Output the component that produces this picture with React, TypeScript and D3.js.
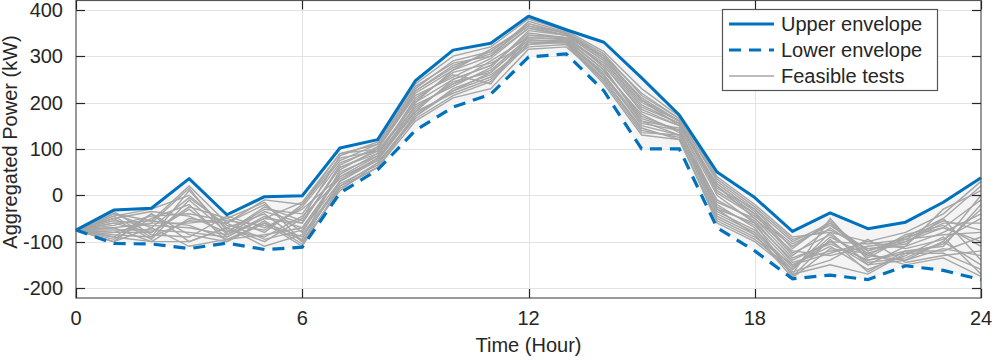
import { useEffect, useRef } from "react";
import { select, scaleLinear, line, area, range } from "d3";

const hours = range(0, 25);

const upperEnvelope = [
    -75, -32, -28, 36, -42, -3, -1, 102, 120, 247, 313, 328, 386, 357, 330, 253,
    173, 50, -5, -78, -38, -72, -58, -15, 38,
];

const lowerEnvelope = [
    -75, -104, -105, -115, -103, -117, -112, 5, 55, 140, 190, 218, 298, 305, 225,
    100, 100, -70, -120, -180, -172, -182, -152, -162, -182,
];

// feasible test profiles (kW per hour)
const test01 = [-75, -40, -55, 20, -60, -10, -20, 90, 110, 230, 290, 310, 370, 350, 300, 220, 165, 30, -30, -100, -60, -120, -90, -50, 20];
const test02 = [-75, -60, -80, -30, -90, -50, -60, 60, 90, 200, 250, 280, 350, 340, 280, 180, 150, 0, -60, -140, -100, -150, -110, -80, -40];
const test03 = [-75, -90, -40, -100, -70, -40, -100, 30, 80, 180, 220, 250, 330, 330, 260, 150, 130, -40, -80, -160, -90, -130, -140, -100, -150];
const test04 = [-75, -50, -95, -10, -80, -30, -40, 70, 100, 220, 270, 300, 360, 345, 290, 200, 160, 20, -50, -120, -130, -110, -100, -70, -10];
const test05 = [-75, -80, -60, -60, -50, -80, -20, 80, 95, 190, 240, 290, 340, 335, 270, 170, 140, -20, -70, -170, -50, -140, -120, -120, -90];
const test06 = [-75, -100, -70, -110, -95, -60, -90, 20, 70, 170, 230, 260, 320, 325, 240, 130, 120, -50, -90, -150, -110, -160, -130, -90, -170];
const test07 = [-75, -45, -30, 0, -70, -100, -50, 85, 115, 240, 300, 320, 380, 355, 310, 230, 170, 40, -20, -90, -80, -100, -80, -40, 30];
const test08 = [-75, -70, -100, -50, -60, -20, -80, 50, 85, 210, 260, 240, 345, 340, 285, 190, 155, 10, -40, -130, -70, -125, -100, -60, -60];
const test09 = [-75, -35, -85, -90, -45, -70, -30, 40, 75, 195, 235, 275, 355, 345, 275, 160, 145, -30, -60, -175, -95, -165, -120, -110, -20];
const test10 = [-75, -95, -50, -20, -100, -55, -105, 15, 60, 160, 210, 230, 315, 320, 250, 140, 125, -60, -100, -165, -140, -95, -145, -130, -120];
const test11 = [-75, -55, -65, -70, -85, -35, -60, 65, 105, 225, 280, 305, 365, 350, 295, 210, 160, 5, -45, -110, -60, -135, -90, -70, -100];
const test12 = [-75, -85, -90, 10, -75, -90, -45, 35, 80, 185, 245, 265, 335, 330, 265, 175, 135, -10, -55, -145, -120, -115, -105, -50, -140];
const test13 = [-75, -65, -45, -40, -55, -65, -95, 55, 100, 215, 255, 295, 360, 345, 300, 205, 150, 25, -35, -125, -85, -145, -135, -100, 0];
const test14 = [-75, -75, -75, -80, -90, -45, -70, 45, 90, 205, 265, 285, 325, 335, 255, 155, 140, -35, -75, -155, -100, -105, -95, -85, -80];
const test15 = [-75, -40, -70, -5, -65, -75, -25, 75, 110, 235, 285, 300, 375, 352, 305, 215, 165, 35, -25, -95, -75, -115, -110, -30, 10];
const test16 = [-75, -90, -100, -100, -70, -110, -85, 25, 65, 175, 225, 255, 330, 328, 245, 135, 130, -45, -85, -170, -150, -170, -125, -125, -160];
const test17 = [-75, -50, -35, -45, -80, -25, -55, 60, 95, 200, 270, 315, 365, 345, 290, 195, 155, 15, -30, -115, -55, -130, -85, -65, -110];
const test18 = [-75, -60, -55, -65, -95, -85, -70, 40, 85, 190, 240, 270, 340, 338, 270, 165, 140, -25, -65, -150, -125, -100, -115, -95, -50];
const test19 = [-75, -80, -80, -25, -50, -15, -100, 10, 70, 165, 215, 245, 325, 330, 250, 145, 120, -55, -95, -160, -80, -150, -140, -115, -130];
const test20 = [-75, -70, -60, 15, -85, -50, -15, 90, 100, 225, 275, 310, 370, 348, 295, 205, 160, 20, -40, -105, -65, -120, -95, -55, -75];
const test21 = [-75, -45, -90, -55, -60, -95, -75, 30, 75, 180, 250, 280, 345, 340, 280, 185, 150, -15, -50, -135, -105, -140, -125, -105, -30];
const test22 = [-75, -100, -40, -85, -100, -60, -110, 20, 60, 170, 225, 265, 335, 333, 260, 160, 130, -30, -85, -178, -115, -125, -150, -135, -175];

const feasibleTests = [
    test01, test02, test03, test04, test05, test06, test07, test08, test09, test10, test11,
    test12, test13, test14, test15, test16, test17, test18, test19, test20, test21, test22,
];

const xTicks = [0, 6, 12, 18, 24];
const yTicks = [-200, -100, 0, 100, 200, 300, 400];
const legendLabels = ["Upper envelope", "Lower envelope", "Feasible tests"];

const Width = 996;
const Height = 360;

function App() {
    const svgRef = useRef(null);

    useEffect(() => {
        const Margin = { top: 0.5, right: 15, bottom: 62, left: 76 };
        const innerRight = Width - Margin.right;
        const innerBottom = Height - Margin.bottom;
        const font = "'Liberation Sans', Arial, Helvetica, sans-serif";
        const axisColor = "#262626";
        const blue = "#0072BD";

        const svg = select(svgRef.current);
        svg.selectAll("*").remove();

        const xScale = scaleLinear().domain([0, 24]).range([Margin.left, innerRight]);
        const yScale = scaleLinear().domain([-221.5, 420]).range([innerBottom, Margin.top]);

        // grid
        const grid = svg.append("g").attr("stroke", "#e3e3e3").attr("stroke-width", 1);
        grid.selectAll(".gx")
            .data(xTicks.slice(1, -1))
            .join("line")
            .attr("x1", (d) => Math.round(xScale(d)) + 0.5)
            .attr("x2", (d) => Math.round(xScale(d)) + 0.5)
            .attr("y1", Margin.top)
            .attr("y2", innerBottom);
        grid.selectAll(".gy")
            .data(yTicks)
            .join("line")
            .attr("x1", Margin.left)
            .attr("x2", innerRight)
            .attr("y1", (d) => Math.round(yScale(d)) + 0.5)
            .attr("y2", (d) => Math.round(yScale(d)) + 0.5);

        // shaded band between envelopes
        const band = area()
            .x((d) => xScale(d))
            .y0((d) => yScale(lowerEnvelope[d]))
            .y1((d) => yScale(upperEnvelope[d]));
        svg.append("path").attr("d", band(hours)).attr("fill", "#f4f4f4");

        const myLine = line()
            .x((d, i) => xScale(hours[i]))
            .y((d) => yScale(d));

        // feasible tests
        svg.append("g")
            .selectAll("path")
            .data(feasibleTests)
            .join("path")
            .attr("d", (d) => myLine(d))
            .attr("fill", "none")
            .attr("stroke", "#a6a6a6")
            .attr("stroke-width", 1.4);

        // envelopes
        svg.append("path")
            .attr("d", myLine(lowerEnvelope))
            .attr("fill", "none")
            .attr("stroke", blue)
            .attr("stroke-width", 3.2)
            .attr("stroke-dasharray", "12 8");

        svg.append("path")
            .attr("d", myLine(upperEnvelope))
            .attr("fill", "none")
            .attr("stroke", blue)
            .attr("stroke-width", 3)
            .attr("stroke-linejoin", "round");

        // axes box + ticks
        const axes = svg.append("g").attr("stroke", axisColor).attr("stroke-width", 1.2).attr("fill", "none");
        axes.append("rect")
            .attr("x", Margin.left)
            .attr("y", Margin.top)
            .attr("width", innerRight - Margin.left)
            .attr("height", innerBottom - Margin.top)
            .attr("stroke", "#555");
        const tickLen = 9;
        xTicks.forEach((t) => {
            const x = Math.round(xScale(t)) + 0.5;
            axes.append("line").attr("x1", x).attr("x2", x).attr("y1", innerBottom).attr("y2", innerBottom - tickLen);
            axes.append("line").attr("x1", x).attr("x2", x).attr("y1", Margin.top).attr("y2", Margin.top + tickLen);
        });
        yTicks.forEach((t) => {
            const y = Math.round(yScale(t)) + 0.5;
            axes.append("line").attr("x1", Margin.left).attr("x2", Margin.left + tickLen).attr("y1", y).attr("y2", y);
            axes.append("line").attr("x1", innerRight).attr("x2", innerRight - tickLen).attr("y1", y).attr("y2", y);
        });

        // tick labels
        svg.append("g")
            .selectAll("text")
            .data(xTicks)
            .join("text")
            .attr("x", (d) => xScale(d))
            .attr("y", innerBottom + 27)
            .attr("text-anchor", "middle")
            .text((d) => d);

        svg.append("g")
            .selectAll("text")
            .data(yTicks)
            .join("text")
            .attr("x", Margin.left - 13)
            .attr("y", (d) => yScale(d) + 7)
            .attr("text-anchor", "end")
            .text((d) => d);

        // axis labels
        svg.append("text")
            .attr("x", xScale(12))
            .attr("y", 352)
            .attr("text-anchor", "middle")
            .text("Time (Hour)");

        svg.append("text")
            .attr("transform", "rotate(-90)")
            .attr("x", -142)
            .attr("y", 17)
            .attr("text-anchor", "middle")
            .text("Aggregated Power (kW)");

        // legend
        const legend = svg.append("g");
        legend.append("rect")
            .attr("x", 722.5)
            .attr("y", 9.5)
            .attr("width", 215)
            .attr("height", 81)
            .attr("fill", "white")
            .attr("stroke", "#555")
            .attr("stroke-width", 1.2);
        const legendStyles = [
            { stroke: blue, width: 3, dash: null },
            { stroke: blue, width: 3.2, dash: "12 8" },
            { stroke: "#a6a6a6", width: 1.4, dash: null },
        ];
        legendLabels.forEach((label, i) => {
            const y = 24 + i * 26;
            legend.append("line")
                .attr("x1", 729)
                .attr("x2", 774)
                .attr("y1", y)
                .attr("y2", y)
                .attr("stroke", legendStyles[i].stroke)
                .attr("stroke-width", legendStyles[i].width)
                .attr("stroke-dasharray", legendStyles[i].dash);
            legend.append("text")
                .attr("x", 781)
                .attr("y", y + 7)
                .text(label);
        });

        svg.selectAll("text")
            .style("font-family", font)
            .attr("font-size", 20)
            .attr("fill", axisColor);
    }, []);

    return (
        <svg
            ref={svgRef}
            width={Width}
            height={Height}
            style={{ position: "absolute", left: 0, top: 0, background: "white", display: "block" }}
        ></svg>
    );
}

export default App;
